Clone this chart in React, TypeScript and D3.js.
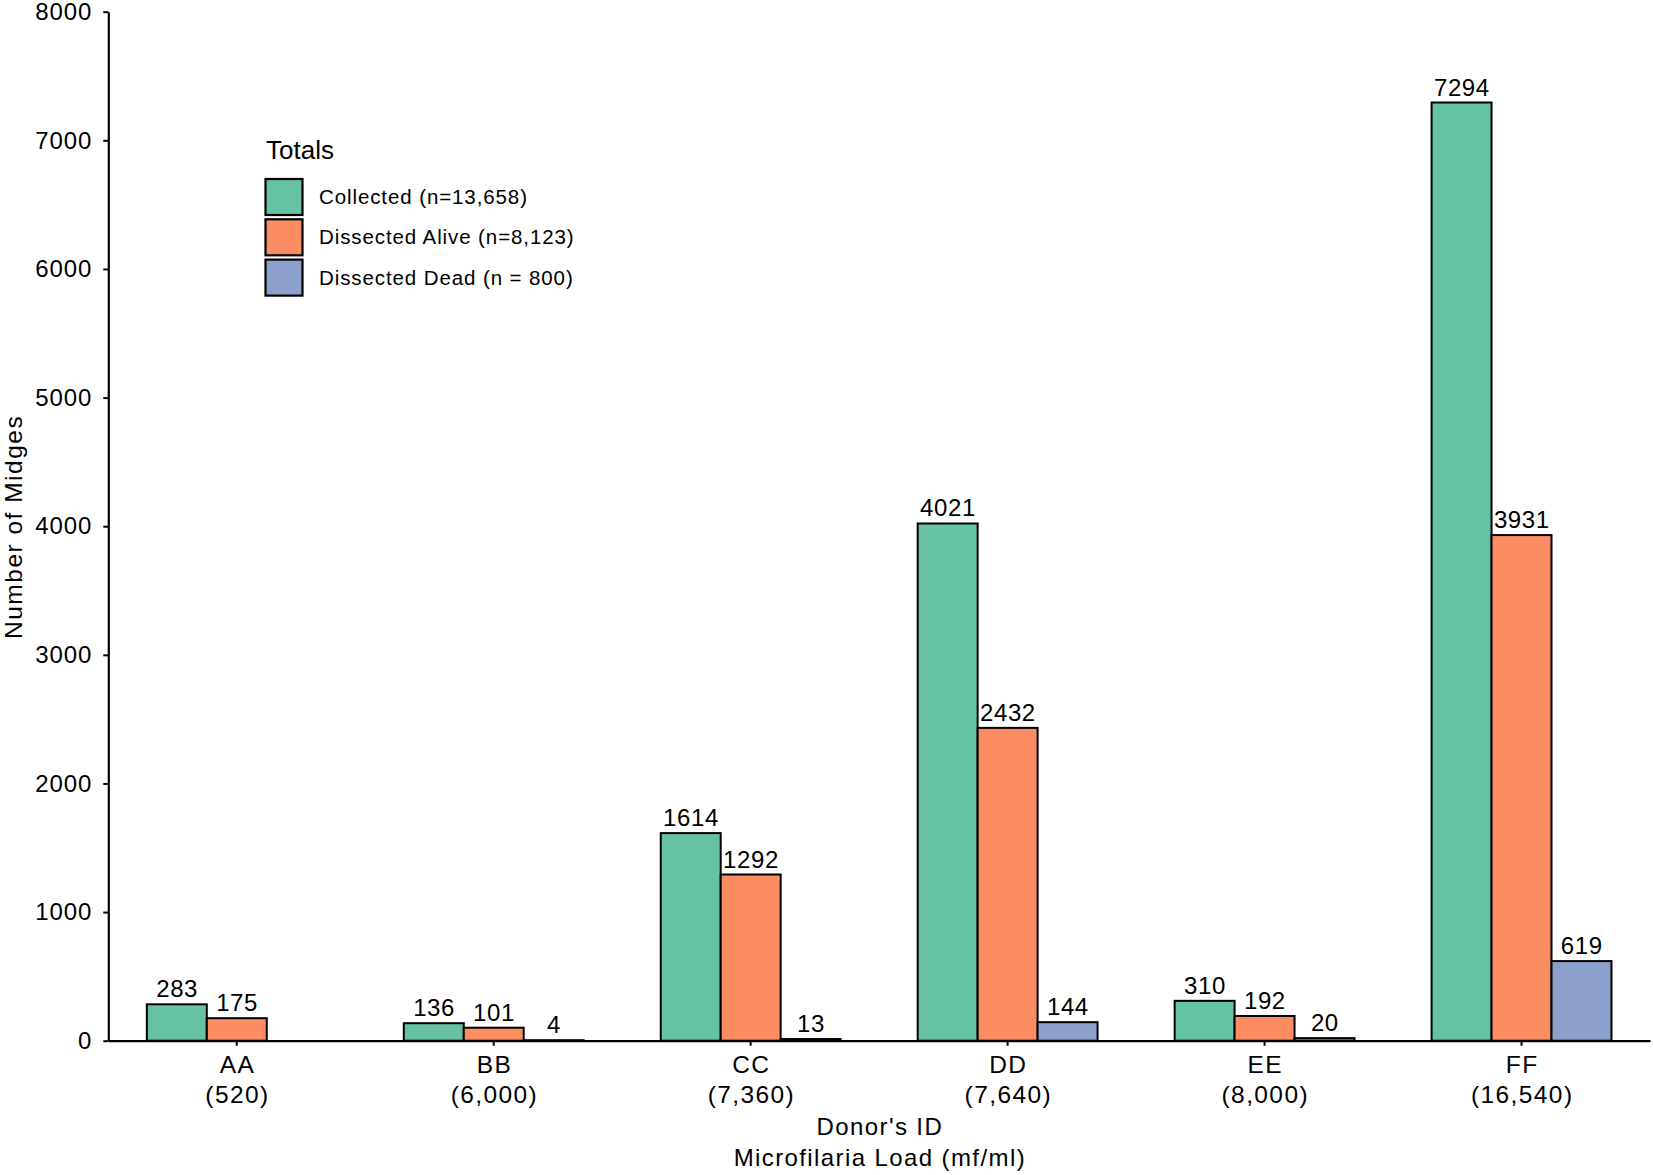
import React, { useEffect, useRef } from 'react';
import * as d3 from 'd3';

const donors = ['AA', 'BB', 'CC', 'DD', 'EE', 'FF'];
const loads = ['(520)', '(6,000)', '(7,360)', '(7,640)', '(8,000)', '(16,540)'];
const seriesNames = ['Collected (n=13,658)', 'Dissected Alive (n=8,123)', 'Dissected Dead (n = 800)'];
const collected = [283, 136, 1614, 4021, 310, 7294];
const dissectedAlive = [175, 101, 1292, 2432, 192, 3931];
const dissectedDead: (number | null)[] = [null, 4, 13, 144, 20, 619];
const colors = ['#66C2A5', '#FC8D62', '#8DA0CB'];
const yTicks = [0, 1000, 2000, 3000, 4000, 5000, 6000, 7000, 8000];

const FONT = '"Liberation Sans", Arial, sans-serif';

const App: React.FC = () => {
  const svgRef = useRef<SVGSVGElement>(null);

  useEffect(() => {
    if (!svgRef.current) return;
    const W = 1653, H = 1175;
    const left = 108.3, right = 1650, top = 11.7, bottom = 1040.7;

    const svg = d3.select(svgRef.current);
    svg.selectAll('*').remove();
    svg.attr('width', W).attr('height', H).style('font-family', FONT);

    const x0 = d3.scaleBand<string>().domain(donors).range([left, right])
      .paddingInner(0.3).paddingOuter(0.15);
    const x1 = d3.scaleBand<number>().domain([0, 1, 2]).range([0, x0.bandwidth()]);
    const y = d3.scaleLinear().domain([0, 8000]).range([bottom, top]);

    const series = [collected, dissectedAlive, dissectedDead];

    // bars + value labels
    const bars = svg.append('g');
    donors.forEach((d, i) => {
      series.forEach((s, j) => {
        const v = s[i];
        if (v == null) return;
        const bx = x0(d)! + x1(j)!;
        bars.append('rect')
          .attr('x', bx)
          .attr('y', y(v))
          .attr('width', x1.bandwidth())
          .attr('height', Math.max(0, y(0) - y(v)))
          .attr('fill', colors[j])
          .attr('stroke', '#000')
          .attr('stroke-width', 2);
        bars.append('text')
          .attr('x', bx + x1.bandwidth() / 2 + 0.3)
          .attr('y', y(v) - 7)
          .attr('text-anchor', 'middle')
          .style('font-size', '24px')
          .style('letter-spacing', '0.6px')
          .attr('fill', '#000')
          .text(v);
      });
    });

    // y axis
    const yAxis = svg.append('g')
      .attr('transform', `translate(${left},0)`)
      .call(d3.axisLeft(y).tickValues(yTicks).tickSize(5).tickSizeOuter(0).tickPadding(11)
        .tickFormat(d3.format('d')));
    yAxis.select('.domain').attr('stroke-width', 2.2);
    yAxis.selectAll('.tick line').attr('stroke-width', 2);
    yAxis.selectAll('.tick text')
      .style('font-size', '24px')
      .style('letter-spacing', '0.9px')
      .style('font-family', FONT)
      .attr('fill', '#000');

    // x axis
    const xAxis = svg.append('g')
      .attr('transform', `translate(0,${bottom})`)
      .call(d3.axisBottom(x0).tickSize(5).tickSizeOuter(0).tickFormat(() => ''));
    xAxis.select('.domain').attr('stroke-width', 2.2);
    xAxis.selectAll('.tick line').attr('stroke-width', 2);
    xAxis.selectAll('.tick text').remove();

    donors.forEach((d, i) => {
      const cx = x0(d)! + x0.bandwidth() / 2 + 0.7;
      const t = svg.append('text')
        .attr('text-anchor', 'middle')
        .style('font-size', '24.5px')
        .style('letter-spacing', '1.4px')
        .attr('fill', '#000');
      t.append('tspan').attr('x', cx).attr('y', 1072.5).text(d);
      t.append('tspan').attr('x', cx).attr('y', 1102.5).text(loads[i]);
    });

    // axis titles
    const xt = svg.append('text')
      .attr('text-anchor', 'middle')
      .style('font-size', '24px')
      .style('letter-spacing', '1.4px')
      .attr('fill', '#000');
    xt.append('tspan').attr('x', (left + right) / 2 + 0.7).attr('y', 1134.5).text("Donor's ID");
    xt.append('tspan').attr('x', (left + right) / 2 + 0.7).attr('y', 1165.5).text('Microfilaria Load (mf/ml)');

    svg.append('text')
      .attr('transform', `translate(21.5,${(top + bottom) / 2 + 0.7}) rotate(-90)`)
      .attr('text-anchor', 'middle')
      .style('font-size', '24.5px')
      .style('letter-spacing', '1.5px')
      .attr('fill', '#000')
      .text('Number of Midges');

    // legend
    const lg = svg.append('g');
    lg.append('text')
      .attr('x', 266)
      .attr('y', 159.3)
      .style('font-size', '26px')
      .attr('fill', '#000')
      .text('Totals');
    seriesNames.forEach((name, j) => {
      const ky = 179 + j * 40.3;
      lg.append('rect')
        .attr('x', 265.5)
        .attr('y', ky)
        .attr('width', 37)
        .attr('height', 36)
        .attr('fill', colors[j])
        .attr('stroke', '#000')
        .attr('stroke-width', 2.2);
      lg.append('text')
        .attr('x', 319)
        .attr('y', ky + 25)
        .style('font-size', '20.5px')
        .style('letter-spacing', '0.9px')
        .attr('fill', '#000')
        .text(name);
    });
  }, []);

  return (
    <div style={{ position: 'absolute', left: 0, top: 0, background: '#fff' }}>
      <svg ref={svgRef} style={{ display: 'block' }}></svg>
    </div>
  );
};

export default App;
